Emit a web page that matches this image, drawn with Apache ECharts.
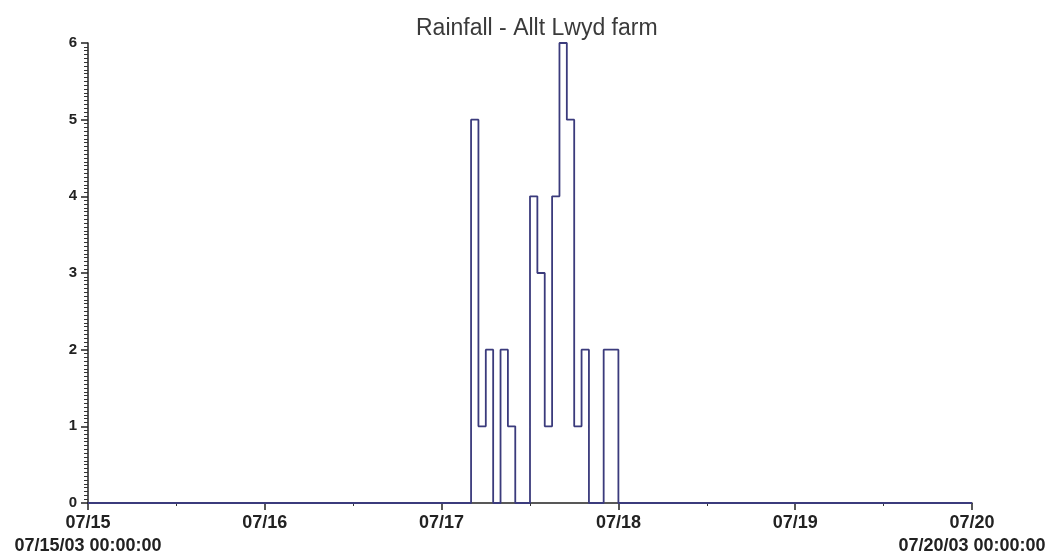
<!DOCTYPE html>
<html>
<head>
<meta charset="utf-8">
<script src="https://cdn.jsdelivr.net/npm/echarts@6/dist/echarts.min.js"></script>
<style>html,body{margin:0;padding:0;background:#fff;}#c{width:1054px;height:559px;}</style>
</head>
<body>
<div id="c"></div>
<script>
// Hourly rainfall totals (each value covers the hour starting at its time)
const times = [
  '2003-07-15 00:00',
  '2003-07-17 04:00','2003-07-17 05:00','2003-07-17 06:00','2003-07-17 07:00',
  '2003-07-17 08:00','2003-07-17 09:00','2003-07-17 10:00','2003-07-17 11:00',
  '2003-07-17 12:00','2003-07-17 13:00','2003-07-17 14:00','2003-07-17 15:00',
  '2003-07-17 16:00','2003-07-17 17:00','2003-07-17 18:00','2003-07-17 19:00',
  '2003-07-17 20:00','2003-07-17 21:00','2003-07-17 22:00','2003-07-17 23:00',
  '2003-07-18 00:00','2003-07-20 00:00'
];
const rainfall = [
  0,
  5,1,2,0,
  2,1,0,0,
  4,3,1,4,
  6,5,1,2,
  0,0,2,2,
  0,0
];
const yTicks = [0,1,2,3,4,5,6];
const xStart = '2003-07-15 00:00';
const xEnd = '2003-07-20 00:00';

function ts(s){ const p=s.split(/[- :]/).map(Number); return Date.UTC(p[0],p[1]-1,p[2],p[3],p[4]); }
const data = times.map((t,i)=>[ts(t), rainfall[i]]);
const pad = n => (n<10?'0':'')+n;

const chart = echarts.init(document.getElementById('c'));
chart.setOption({
  animation:false,
  backgroundColor:'#fff',
  title:{
    text:'Rainfall - Allt Lwyd farm',
    left:411, top:12,
    textStyle:{fontFamily:'Liberation Sans, Arial, sans-serif', fontWeight:'normal', fontSize:23, color:'#3a3a3a'}
  },
  grid:{left:88, right:82, top:43, bottom:56, containLabel:false},
  xAxis:{
    type:'time', min:ts(xStart), max:ts(xEnd), interval:86400000,
    axisLine:{lineStyle:{color:'#222', width:1.5}},
    axisTick:{show:true, length:7, lineStyle:{color:'#222', width:1.5}},
    minorTick:{show:true, splitNumber:2, length:3, lineStyle:{color:'#333'}},
    splitLine:{show:false},
    axisLabel:{
      margin:9, lineHeight:23,
      fontFamily:'Liberation Sans, Arial, sans-serif', fontWeight:'bold', fontSize:18, color:'#222',
      showMinLabel:true, showMaxLabel:true, hideOverlap:false,
      formatter:function(v){
        const d=new Date(v);
        const s=pad(d.getUTCMonth()+1)+'/'+pad(d.getUTCDate());
        if (v===ts(xStart) || v===ts(xEnd)) {
          return s+'\n'+s+'/'+pad(d.getUTCFullYear()%100)+' 00:00:00';
        }
        return s;
      }
    }
  },
  yAxis:{
    type:'value', min:yTicks[0], max:yTicks[yTicks.length-1], interval:1,
    axisLine:{show:true, lineStyle:{color:'#222', width:1.5}},
    axisTick:{show:true, length:7, lineStyle:{color:'#222', width:1.5}},
    minorTick:{show:true, splitNumber:20, length:4, lineStyle:{color:'#333'}},
    splitLine:{show:false},
    axisLabel:{margin:11, fontFamily:'Liberation Sans, Arial, sans-serif', fontWeight:'bold', fontSize:15, color:'#222'}
  },
  series:[{
    type:'line', step:'end', data:data, showSymbol:false, symbol:'none',
    lineStyle:{color:'#3b3b7c', width:1.8}
  }]
});
</script>
</body>
</html>
